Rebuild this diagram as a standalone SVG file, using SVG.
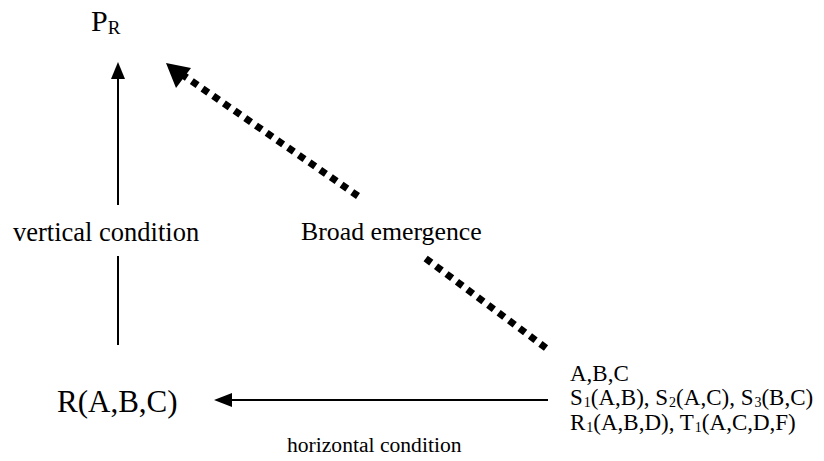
<svg xmlns="http://www.w3.org/2000/svg" width="824" height="461" viewBox="0 0 824 461">
<style>
text{font-family:"Liberation Serif","Times New Roman",serif;fill:#000}
.ln{stroke:#000;stroke-width:2;fill:none}
.dot{stroke:#000;stroke-width:7;stroke-dasharray:7 6;fill:none}
.el{font-size:23px}
.sb{font-size:14px}
</style>
<rect width="824" height="461" fill="#fff"/>
<g id="connectors">
<line class="ln" x1="118" y1="345" x2="118" y2="256"/>
<line class="ln" x1="118" y1="205" x2="118" y2="76"/>
<polygon points="118,62 111,79 125,79"/>
<line class="ln" x1="548" y1="400" x2="228" y2="400"/>
<polygon points="214,400 232,393 232,407"/>
<line class="dot" x1="546" y1="348" x2="425" y2="258"/>
<line class="dot" x1="358" y1="196" x2="180" y2="73"/>
<polygon points="166,63 191,68 176,88"/>
</g>
<g id="PR"><text x="91" y="31" font-size="30">P<tspan font-size="19" dy="3">R</tspan></text></g>
<g id="vertical"><text x="13" y="241" font-size="26.5">vertical condition</text></g>
<g id="broad"><text x="301" y="240" font-size="25.8">Broad emergence</text></g>
<g id="R"><text x="57" y="412" font-size="31">R(A,B,C)</text></g>
<g id="horizontal"><text x="287" y="452" font-size="21.6">horizontal condition</text></g>
<g id="elements">
<text class="el" x="570" y="381">A,B,C</text>
<text class="el" x="570" y="405">S<tspan class="sb" dx="1" dy="1.5">1</tspan><tspan dy="-1.5">(A,B), S</tspan><tspan class="sb" dx="1" dy="1.5">2</tspan><tspan dy="-1.5">(A,C), S</tspan><tspan class="sb" dx="1" dy="1.5">3</tspan><tspan dy="-1.5">(B,C)</tspan></text>
<text class="el" x="570" y="430">R<tspan class="sb" dx="1" dy="1.5">1</tspan><tspan dy="-1.5">(A,B,D), T</tspan><tspan class="sb" dx="1" dy="1.5">1</tspan><tspan dy="-1.5">(A,C,D,F)</tspan></text>
</g>
</svg>
